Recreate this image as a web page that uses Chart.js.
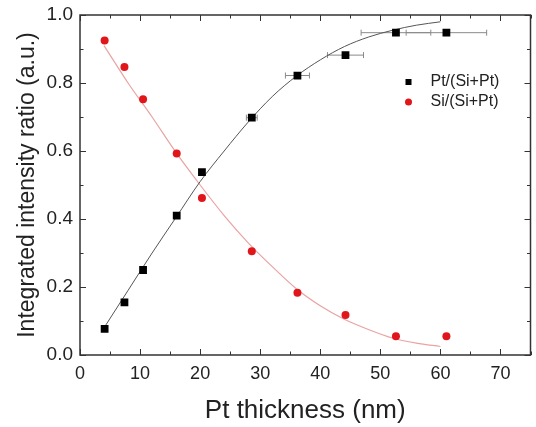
<!DOCTYPE html>
<html>
<head>
<meta charset="utf-8">
<script src="https://cdn.jsdelivr.net/npm/chart.js@4.4.1/dist/chart.umd.min.js"></script>
<style>
  html, body { margin: 0; padding: 0; background: #fff; }
  #wrap { width: 536px; height: 427px; }
</style>
</head>
<body>
<div id="wrap"><canvas id="myChart" width="536" height="427"></canvas></div>
<script>
// valores
const thickness = [4.1, 7.4, 10.5, 16.1, 20.3, 28.6, 36.2, 44.2, 52.6, 61.0];
const ptRatio = [0.077, 0.155, 0.25, 0.41, 0.538, 0.698, 0.822, 0.882, 0.948, 0.948];
const siRatio = [0.925, 0.847, 0.752, 0.593, 0.462, 0.305, 0.183, 0.118, 0.055, 0.055];
const thicknessErr = [0, 0, 0, 0, 0, 0.9, 2.0, 3.0, 5.8, 6.7];

// curvas de ajuste
const fitX = [4, 8, 12, 16, 20, 24, 28, 32, 36, 40, 44, 48, 52, 56, 60];
const ptFit = [0.08, 0.19, 0.30, 0.405, 0.51, 0.60, 0.685, 0.76, 0.82, 0.868, 0.907, 0.935, 0.955, 0.97, 0.98];
const siFit = [0.91, 0.80, 0.70, 0.595, 0.50, 0.41, 0.33, 0.26, 0.195, 0.145, 0.105, 0.075, 0.05, 0.035, 0.025];

const xTicks = [0, 10, 20, 30, 40, 50, 60, 70];
const yTicks = [0, 0.2, 0.4, 0.6, 0.8, 1.0];

const FONT = 'Liberation Sans, Arial, sans-serif';
const RED = '#e0161b';

const toXY = (xs, ys) => xs.map((x, i) => ({ x: x, y: ys[i] }));

// moldura, ticks para dentro, barras de erro e legenda
const framePlugin = {
  id: 'framePlugin',
  beforeDatasetsDraw(chart) {
    const { ctx, scales: { x, y } } = chart;
    ctx.save();
    ctx.strokeStyle = '#8a8a8a';
    ctx.lineWidth = 1;
    thickness.forEach((t, i) => {
      const e = thicknessErr[i];
      if (!e) return;
      const py = y.getPixelForValue(ptRatio[i]);
      const x1 = x.getPixelForValue(t - e);
      const x2 = x.getPixelForValue(t + e);
      ctx.beginPath();
      ctx.moveTo(x1, py); ctx.lineTo(x2, py);
      ctx.moveTo(x1, py - 3); ctx.lineTo(x1, py + 3);
      ctx.moveTo(x2, py - 3); ctx.lineTo(x2, py + 3);
      ctx.stroke();
    });
    ctx.restore();
  },
  afterDraw(chart) {
    const { ctx, chartArea: a, scales: { x, y } } = chart;
    ctx.save();
    ctx.strokeStyle = '#333';
    ctx.lineWidth = 1.5;
    ctx.strokeRect(a.left, a.top, a.right - a.left, a.bottom - a.top);
    ctx.lineWidth = 1;
    ctx.beginPath();
    for (let v = 0; v <= 75; v += 5) {
      const px = Math.round(x.getPixelForValue(v)) + 0.5;
      const len = v % 10 === 0 ? 6 : 3.5;
      ctx.moveTo(px, a.bottom); ctx.lineTo(px, a.bottom - len);
      ctx.moveTo(px, a.top); ctx.lineTo(px, a.top + len);
    }
    for (let k = 0; k <= 10; k++) {
      const py = Math.round(y.getPixelForValue(k / 10)) + 0.5;
      const len = k % 2 === 0 ? 6 : 3.5;
      ctx.moveTo(a.left, py); ctx.lineTo(a.left + len, py);
      ctx.moveTo(a.right, py); ctx.lineTo(a.right - len, py);
    }
    ctx.stroke();

    // legenda
    const lx = a.right - 122;
    const ly = a.top + 67;
    ctx.font = '16px ' + FONT;
    ctx.textBaseline = 'middle';
    ctx.fillStyle = '#000';
    ctx.fillRect(lx - 3, ly - 3, 6, 6);
    ctx.fillStyle = '#222';
    ctx.fillText(chart.data.datasets[0].label, lx + 22, ly);
    ctx.fillStyle = RED;
    ctx.beginPath();
    ctx.arc(lx, ly + 20, 3.5, 0, Math.PI * 2);
    ctx.fill();
    ctx.fillStyle = '#222';
    ctx.fillText(chart.data.datasets[1].label, lx + 22, ly + 20);
    ctx.restore();
  }
};

const ctx = document.getElementById('myChart');
new Chart(ctx, {
  type: 'scatter',
  data: {
    datasets: [
      {
        label: 'Pt/(Si+Pt)',
        data: toXY(thickness, ptRatio),
        pointStyle: 'rect',
        pointRadius: 5.5,
        backgroundColor: '#000',
        borderColor: '#000',
        borderWidth: 0,
        order: 0
      },
      {
        label: 'Si/(Si+Pt)',
        data: toXY(thickness, siRatio),
        pointStyle: 'circle',
        pointRadius: 4,
        backgroundColor: RED,
        borderColor: RED,
        borderWidth: 0,
        order: 0
      },
      {
        label: 'fit Pt',
        data: toXY(fitX, ptFit),
        showLine: true,
        pointRadius: 0,
        borderColor: '#555',
        borderWidth: 1,
        cubicInterpolationMode: 'monotone',
        order: 1
      },
      {
        label: 'fit Si',
        data: toXY(fitX, siFit),
        showLine: true,
        pointRadius: 0,
        borderColor: '#e9a3a3',
        borderWidth: 1.2,
        cubicInterpolationMode: 'monotone',
        order: 1
      }
    ]
  },
  options: {
    responsive: false,
    animation: false,
    layout: { padding: { top: 15, right: 1, left: 0, bottom: 0 } },
    plugins: {
      legend: { display: false },
      tooltip: { enabled: false }
    },
    scales: {
      x: {
        type: 'linear',
        min: 0,
        max: 75,
        afterFit: (s) => { s.height = 72; },
        afterBuildTicks: (s) => { s.ticks = xTicks.map(v => ({ value: v })); },
        grid: { display: false, drawTicks: false },
        border: { display: false },
        ticks: {
          color: '#222',
          padding: 8,
          font: { family: FONT, size: 18 }
        },
        title: {
          display: true,
          text: 'Pt thickness (nm)',
          color: '#222',
          font: { family: FONT, size: 26 },
          padding: { top: 0, bottom: 1 }
        }
      },
      y: {
        type: 'linear',
        min: 0,
        max: 1,
        afterFit: (s) => { s.width = 80; s.paddingTop = 0; },
        afterBuildTicks: (s) => { s.ticks = yTicks.map(v => ({ value: v })); },
        grid: { display: false, drawTicks: false },
        border: { display: false },
        ticks: {
          color: '#222',
          padding: 7,
          font: { family: FONT, size: 19, lineHeight: 1 },
          callback: (v) => Number(v).toFixed(1)
        },
        title: {
          display: true,
          text: 'Integrated intensity ratio (a.u.)',
          color: '#222',
          font: { family: FONT, size: 23 },
          padding: { top: 14, bottom: 0 }
        }
      }
    }
  },
  plugins: [framePlugin]
});
</script>
</body>
</html>
